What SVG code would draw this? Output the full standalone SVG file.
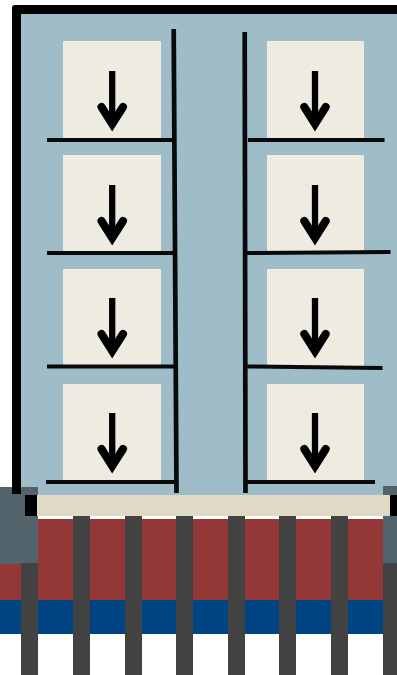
<svg xmlns="http://www.w3.org/2000/svg" width="397" height="675" viewBox="0 0 397 675">
<style>
.panel{fill:#eeebe0}
.shelf{stroke:#0a0a0a;stroke-width:4;fill:none}
.upright{stroke:#0a0a0a;stroke-width:4.700;fill:none}
.shaft{stroke:#000;stroke-width:6.300;fill:none}
.head{stroke:#000;stroke-width:8;fill:none;stroke-linecap:round;stroke-linejoin:miter}
.post{fill:#424242}
.slate{fill:#53636b}
</style>
<g id="wall">
<rect x="17" y="10" width="380" height="485" fill="#9fbcc9"/>
</g>
<g id="base">
<rect x="38" y="519" width="345" height="81" fill="#933837"/>
<rect x="0" y="564" width="38" height="36" fill="#933837"/>
<rect x="0" y="600" width="397" height="34" fill="#014484"/>
<rect class="slate" x="0" y="487" width="38" height="77"/>
<rect class="slate" x="383" y="486" width="14" height="77"/>
<rect x="37" y="495" width="353" height="21" fill="#dedac5"/>
<rect x="25" y="495" width="12" height="21" fill="#000"/>
<rect x="390" y="495" width="7" height="21" fill="#000"/>
<rect class="post" x="21" y="563" width="17" height="112"/>
<rect class="post" x="73" y="516" width="17" height="159"/>
<rect class="post" x="125" y="516" width="17" height="159"/>
<rect class="post" x="176" y="516" width="17" height="159"/>
<rect class="post" x="228" y="516" width="17" height="159"/>
<rect class="post" x="279" y="516" width="17" height="159"/>
<rect class="post" x="331" y="516" width="17" height="159"/>
<rect class="post" x="383" y="563" width="14" height="112"/>
</g>
<g id="frame">
<path d="M12 494V8Q12 5 15 5H397V14H21V494Z" fill="#000"/>
</g>
<g id="panels">
<rect class="panel" x="63" y="41" width="98" height="98"/>
<rect class="panel" x="63" y="155" width="98" height="97"/>
<rect class="panel" x="63" y="269" width="98" height="97"/>
<rect class="panel" x="63" y="384" width="98" height="97"/>
<rect class="panel" x="267" y="41" width="97" height="98"/>
<rect class="panel" x="267" y="155" width="97" height="97"/>
<rect class="panel" x="267" y="269" width="97" height="97"/>
<rect class="panel" x="267" y="384" width="97" height="97"/>
</g>
<g id="connectors">
<path class="upright" d="M173.700 29L176.500 493"/>
<path class="upright" d="M244.700 32L245.500 493"/>
<path class="shelf" d="M47 140H175"/>
<path class="shelf" d="M47 253H175"/>
<path class="shelf" d="M47 366.500H176"/>
<path class="shelf" d="M46 482H177"/>
<path class="shelf" d="M248 140H384.500"/>
<path class="shelf" d="M246 253L390.500 252"/>
<path class="shelf" d="M246 366.500L382.500 368"/>
<path class="shelf" d="M246 482H375"/>
<path class="shaft" d="M112.200 71V125"/><path class="head" d="M101.500 107L112.200 124L123 107"/>
<path class="shaft" d="M112.200 185V239"/><path class="head" d="M101.500 221L112.200 238L123 221"/>
<path class="shaft" d="M112.200 298V352"/><path class="head" d="M101.500 334L112.200 351L123 334"/>
<path class="shaft" d="M112.200 413V467"/><path class="head" d="M101.500 449L112.200 466L123 449"/>
<path class="shaft" d="M315 71V125"/><path class="head" d="M304.300 107L315 124L325.700 107"/>
<path class="shaft" d="M315 185V239"/><path class="head" d="M304.300 221L315 238L325.700 221"/>
<path class="shaft" d="M315 298V352"/><path class="head" d="M304.300 334L315 351L325.700 334"/>
<path class="shaft" d="M315 413V467"/><path class="head" d="M304.300 449L315 466L325.700 449"/>
</g>
</svg>
